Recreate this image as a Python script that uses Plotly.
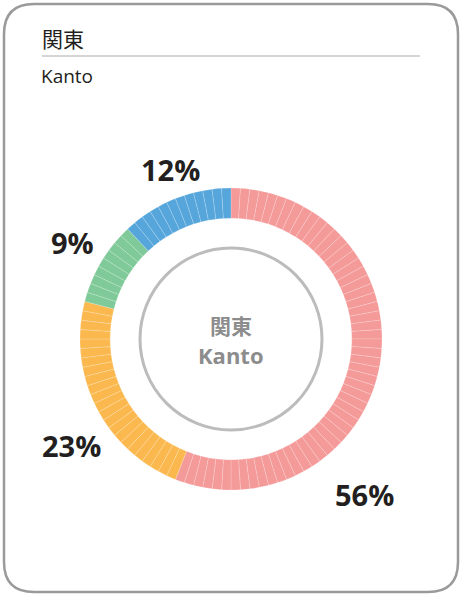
import plotly.graph_objects as go

# region shares (percent), clockwise from the top
regions = ["A", "B", "C", "D"]
shares = [56, 23, 9, 12]
colors = ["#F49A99", "#FBB84E", "#7FCA98", "#56A6DC"]
labels = [f"{s}%" for s in shares]
title_jp = "関東"
title_en = "Kanto"

# one slice per percentage point, like the reference's striped ring
slice_vals = []
slice_cols = []
for s, c in zip(shares, colors):
    slice_vals += [1] * s
    slice_cols += [c] * s

W, H = 462, 596
cx, cy, R = 231, 339, 151

fig = go.Figure()
# invisible trace so the pixel-like x/y axes exist for shapes and annotations
fig.add_trace(go.Scatter(x=[0, W], y=[0, H], mode="markers", marker=dict(opacity=0),
                         hoverinfo="skip", showlegend=False))
fig.add_trace(go.Pie(
    values=slice_vals,
    marker=dict(colors=slice_cols, line=dict(color="rgba(255,255,255,0.35)", width=0.5)),
    sort=False, direction="clockwise", rotation=0,
    hole=0.8, textinfo="none", hoverinfo="skip", showlegend=False,
    domain=dict(x=[(cx - R) / W, (cx + R) / W], y=[(H - cy - R) / H, (H - cy + R) / H]),
))

# label positions around the ring
label_pos = [(364, 494), (71, 445), (72, 242), (170, 169)]
for txt, (x, y) in zip(labels, label_pos):
    fig.add_annotation(x=x, y=y, text=f"<b>{txt}</b>", showarrow=False,
                       font=dict(family="Open Sans", size=29, color="#231F20"))

fig.add_annotation(x=40, y=38, text=title_jp, showarrow=False, xanchor="left",
                   font=dict(family="Noto Sans CJK JP", size=21, color="#231F20"))
fig.add_annotation(x=39, y=76, text=title_en, showarrow=False, xanchor="left",
                   font=dict(family="Open Sans", size=19, color="#231F20"))
fig.add_annotation(x=cx, y=325, text="<b>" + title_jp + "</b>", showarrow=False,
                   font=dict(family="Noto Sans CJK JP", size=21, color="#8C8C8C"))
fig.add_annotation(x=cx, y=355, text="<b>" + title_en + "</b>", showarrow=False,
                   font=dict(family="Open Sans", size=22, color="#8C8C8C"))

# card border, title rule, inner circle
fig.add_shape(type="path", path="M 34 4 L 428 4 Q 458 4 458 34 L 458 562 Q 458 592 428 592 "
                                "L 34 592 Q 4 592 4 562 L 4 34 Q 4 4 34 4 Z",
              line=dict(color="#9A9A9A", width=2.5))
fig.add_shape(type="line", x0=42, x1=420, y0=56, y1=56, line=dict(color="#ABABAB", width=1))
fig.add_shape(type="circle", x0=cx - 91, x1=cx + 91, y0=cy - 91, y1=cy + 91,
              line=dict(color="#BCBCBC", width=3))

fig.update_layout(
    width=W, height=H, margin=dict(l=0, r=0, t=0, b=0),
    paper_bgcolor="white", plot_bgcolor="rgba(0,0,0,0)",
    xaxis=dict(range=[0, W], visible=False, fixedrange=True),
    yaxis=dict(range=[H, 0], visible=False, fixedrange=True),
)
fig.write_html("out.html", config={"displayModeBar": False},
               post_script="document.body.style.margin='0';")
